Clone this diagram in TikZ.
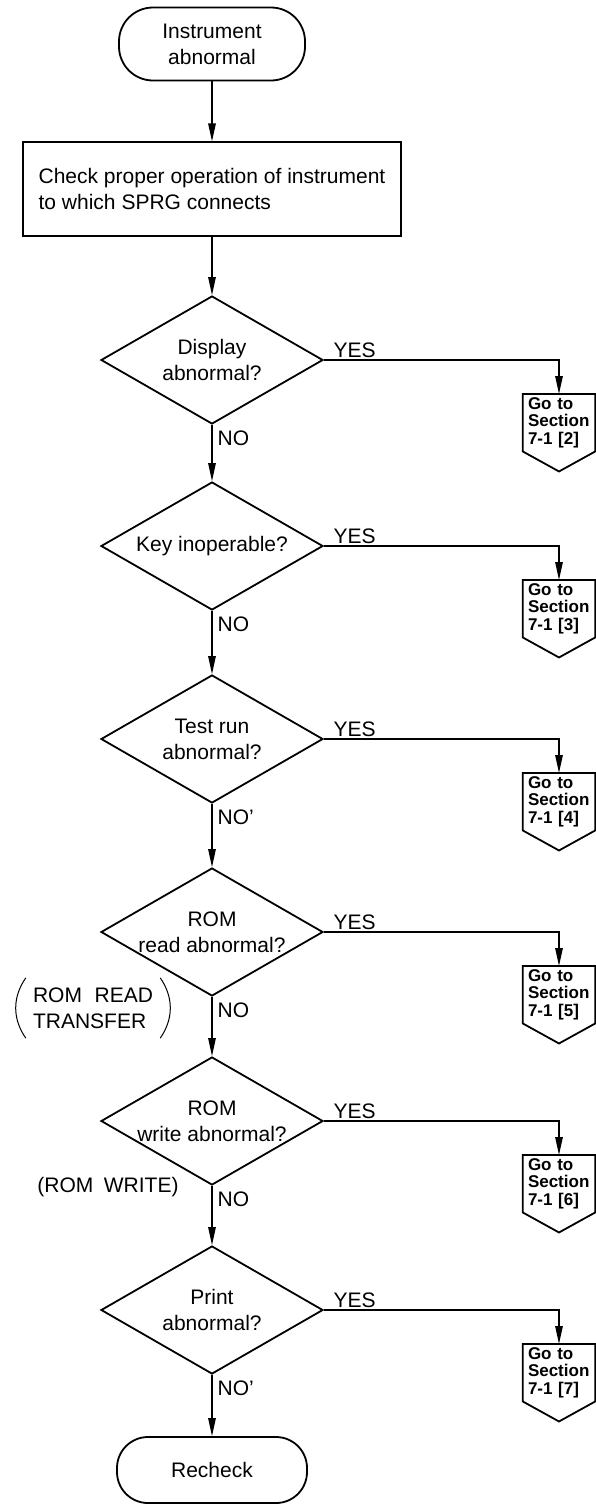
\documentclass[tikz,border=0pt]{standalone}
\usepackage{fontspec}
\setmainfont{Liberation Sans}
\usetikzlibrary{shapes.geometric}
\usetikzlibrary{arrows.meta}
\usetikzlibrary{positioning}
\tikzset{%
  myedge/.style={-{Triangle[length=18pt,width=7.5pt]}, line width=1.3pt},
  myterm/.style={rectangle, rounded corners=34pt, draw=black, line width=1.8pt, align=center},
  mybox/.style={rectangle, draw=black, line width=1.8pt, align=left},
  mydec/.style={diamond, draw=black, line width=1.8pt, aspect=1.73, inner sep=0pt,
    minimum width=222pt, minimum height=128pt, align=center},
  mygo/.style={anchor=north, minimum width=72pt, minimum height=56pt, inner xsep=5pt,
    text width=62pt, align=left, font=\fontsize{17}{17.5}\selectfont\bfseries},
  mynote/.style={align=left, inner xsep=7pt, minimum height=60pt},
  noedge/.style={anchor=north west, pos=0, xshift=3pt, yshift=-3pt, inner sep=2pt},
  yesedge/.style={anchor=south west, pos=0, xshift=7pt, inner sep=2pt}
}

\begin{document}
\begin{tikzpicture}[x=1pt, y=-1pt, font=\fontsize{21}{26}\selectfont]
  \useasboundingbox (0,0) rectangle (596,1505);

  \node[myterm, minimum width=186pt, minimum height=73pt] (start) at (212,44) {Instrument\\abnormal};
  \node[mybox, minimum width=378pt, minimum height=94pt, below=60pt of start] (check)
    {Check proper operation of instrument\\to which SPRG connects};

  \node[mydec] (d1) at (212,360) {Display\\abnormal?};
  \node[mydec] (d2) at (212,546) {Key inoperable?};
  \node[mydec] (d3) at (212,739) {Test run\\abnormal?};
  \node[mydec] (d4) at (212,932) {ROM\\read abnormal?};
  \node[mydec] (d5) at (212,1121) {ROM\\write abnormal?};
  \node[mydec] (d6) at (212,1310) {Print\\abnormal?};
  \node[myterm, minimum width=190pt, minimum height=66pt, rounded corners=31pt] (recheck) at (212,1470) {Recheck};

  \node[mygo] (g1) at (559,394) {Go to\\Section\\7-1 [2]};
  \node[mygo] (g2) at (559,580) {Go to\\Section\\7-1 [3]};
  \node[mygo] (g3) at (559,773) {Go to\\Section\\7-1 [4]};
  \node[mygo] (g4) at (559,966) {Go to\\Section\\7-1 [5]};
  \node[mygo] (g5) at (559,1155) {Go to\\Section\\7-1 [6]};
  \node[mygo] (g6) at (559,1344) {Go to\\Section\\7-1 [7]};
  \foreach \i in {1,...,6}
    \draw[line width=1.8pt] (g\i.north west) -- (g\i.north east) -- (g\i.south east)
      -- ([yshift=-20pt]g\i.south) -- (g\i.south west) -- cycle;

  % side notes
  \node[mynote] (rread) at (93,1008) {ROM\hspace{0.6em}READ\\TRANSFER};
  \draw[line width=1pt] (rread.north west) to[bend right=35] (rread.south west);
  \draw[line width=1pt] (rread.north east) to[bend left=35] (rread.south east);
  \node (rwrite) at (108,1187) {(ROM\hspace{0.5em}WRITE)};

  \draw[myedge] (start) -- (check);
  \draw[myedge] (check) -- (d1);
  \draw[myedge] (d1) -- node[noedge] {NO} (d2);
  \draw[myedge] (d2) -- node[noedge] {NO} (d3);
  \draw[myedge] (d3) -- node[noedge] {NO'} (d4);
  \draw[myedge] (d4) -- node[noedge] {NO} (d5);
  \draw[myedge] (d5) -- node[noedge] {NO} (d6);
  \draw[myedge] (d6) -- node[noedge] {NO'} (recheck);

  \draw[myedge] (d1.east) -| node[yesedge] {YES} (g1.north);
  \draw[myedge] (d2.east) -| node[yesedge] {YES} (g2.north);
  \draw[myedge] (d3.east) -| node[yesedge] {YES} (g3.north);
  \draw[myedge] (d4.east) -| node[yesedge] {YES} (g4.north);
  \draw[myedge] (d5.east) -| node[yesedge] {YES} (g5.north);
  \draw[myedge] (d6.east) -| node[yesedge] {YES} (g6.north);
\end{tikzpicture}
\end{document}
